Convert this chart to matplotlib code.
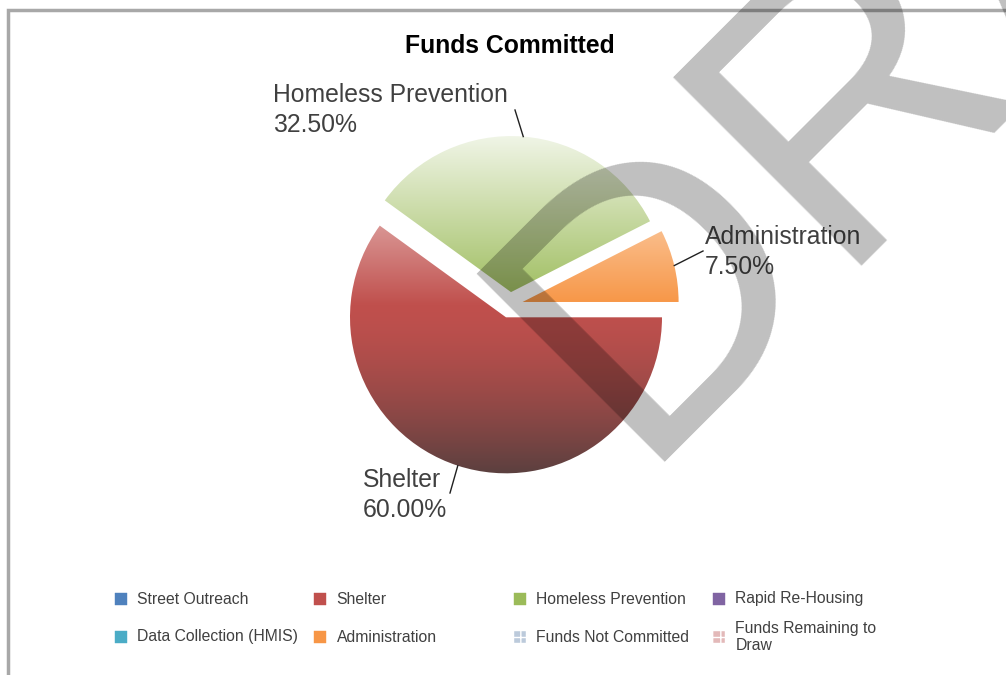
import numpy as np
import matplotlib.pyplot as plt
from matplotlib.patches import Rectangle
from matplotlib.colors import to_rgb

plt.rcParams['font.family'] = ['Liberation Sans', 'DejaVu Sans']

# chart data
slice_labels = ['Shelter', 'Homeless Prevention', 'Administration']
slice_values = [60.00, 32.50, 7.50]
slice_colors = ['#C0504D', '#9BBB59', '#F79646']

legend_labels = ['Street Outreach', 'Shelter', 'Homeless Prevention', 'Rapid Re-Housing',
                 'Data Collection (HMIS)', 'Administration', 'Funds Not Committed',
                 'Funds Remaining to\nDraw']
legend_colors = ['#4F81BD', '#C0504D', '#9BBB59', '#8064A2',
                 '#4BACC6', '#F79646', '#BCCADB', '#E3B9B9']

# layout, in image pixels (y measured from the top)
W, H = 1006, 675
R = 156
CX, CY = 510, 305
label_pos = [(363, 495), (273, 110), (705, 252)]
leader_end = [(450, 493), (515, 110), (703, 251)]
txt_col = '#404040'

fig = plt.figure(figsize=(W / 100, H / 100), dpi=100)
ax = fig.add_axes([0, 0, 1, 1])

wedges, _ = ax.pie(slice_values, startangle=0, counterclock=False,
                   explode=[0.083 * R] * len(slice_values), radius=R,
                   center=(CX, H - CY), wedgeprops=dict(linewidth=0))


def shade(base, t):
    base = np.array(to_rgb(base))
    out = np.zeros((len(t), 3))
    white = np.ones(3)
    dark = np.array([0.23, 0.23, 0.23])
    for i, v in enumerate(t):
        if v < 0.5:
            f = 0.15 + 0.85 * (v / 0.5)
            out[i] = white * (1 - f) + base * f
        else:
            g = 0.75 * ((v - 0.5) / 0.5) ** 1.5
            out[i] = base * (1 - g) + dark * g
    return out


# vertical gradient over the whole pie, clipped to every slice
y_top, y_bot = H - 136, H - 473
ys = np.linspace(H - 490, H - 120, 400)
t = np.clip((y_top - ys) / (y_top - y_bot), 0, 1)
for w, col in zip(wedges, slice_colors):
    img = shade(col, t)[:, None, :]
    im = ax.imshow(img, extent=[CX - R - 40, CX + R + 40, ys[0], ys[-1]],
                   origin='lower', aspect='auto', interpolation='bilinear', zorder=2)
    im.set_clip_path(w)
    w.set_facecolor('none')

# data labels with leader lines
for w, lab, val, (lx, ly), (ex, ey) in zip(wedges, slice_labels, slice_values,
                                            label_pos, leader_end):
    th = np.deg2rad((w.theta1 + w.theta2) / 2)
    sx = w.center[0] + w.r * np.cos(th)
    sy = w.center[1] + w.r * np.sin(th)
    ax.plot([sx, ex], [sy, H - ey], color='#202020', lw=1, zorder=3)
    ax.text(lx, H - ly, f'{lab}\n{val:.2f}%', fontsize=17.8, color=txt_col,
            ha='left', va='center', linespacing=1.3, zorder=4)

# title
ax.text(510, H - 46, 'Funds Committed', fontsize=17.8, fontweight='bold',
        color='black', ha='center', va='center')

# legend, 4 columns x 2 rows
for i, (lab, col) in enumerate(zip(legend_labels, legend_colors)):
    r, c = divmod(i, 4)
    mx = 115 + 199.5 * c
    my = 599 + 38 * r
    hatch = '++' if i >= 6 else None
    ax.add_patch(Rectangle((mx, H - my - 6), 12, 12, facecolor=col,
                           edgecolor='white' if hatch else col, hatch=hatch, lw=0.3))
    ax.text(mx + 22, H - my, lab, fontsize=11.3, color=txt_col,
            ha='left', va='center', linespacing=1.18)

# chart frame
ax.add_patch(Rectangle((8, -20), 1100, H - 10 + 20, fill=False,
                       edgecolor='#a8a8a8', lw=2.5, zorder=1))

# watermark
ax.text(633, H - 462, 'DRAFT', fontsize=278, color='black', alpha=0.25,
        rotation=45, rotation_mode='anchor', ha='left', va='baseline', zorder=10)

ax.set_xlim(0, W)
ax.set_ylim(0, H)
ax.axis('off')

fig.savefig('out.png', dpi=100)
